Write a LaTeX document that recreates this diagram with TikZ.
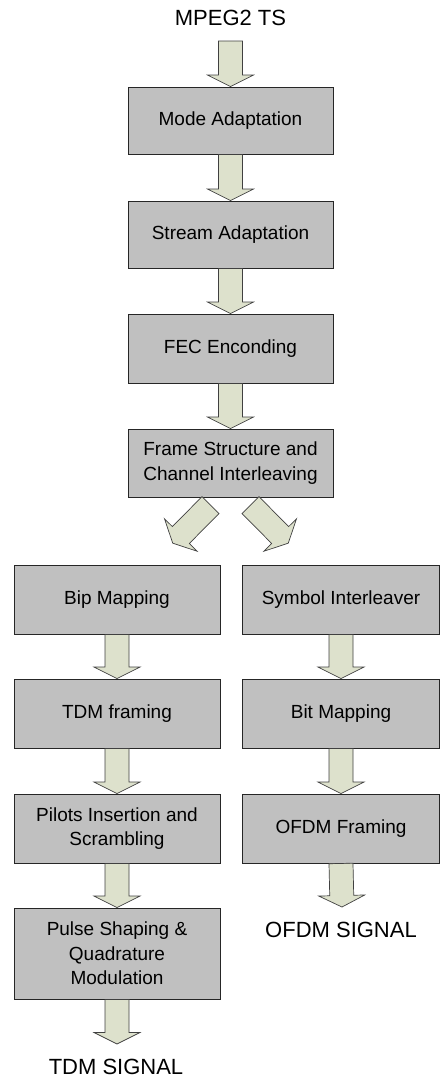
\documentclass[tikz,border=0pt]{standalone}
\usepackage{fontspec}
\setmainfont{Liberation Sans}
\usetikzlibrary{calc}
\definecolor{boxgray}{RGB}{192,192,192}
\definecolor{arrowfill}{RGB}{221,225,204}
\tikzset{
  stage/.style={draw=black!85, line width=0.9pt, fill=boxgray, inner sep=0pt,
    align=center, font=\fontsize{19}{24.5}\selectfont},
  midstage/.style={stage, minimum width=205pt, minimum height=68pt},
  leftstage/.style={stage, minimum width=206pt, minimum height=69pt},
  rightstage/.style={stage, minimum width=197pt, minimum height=69pt},
  signal/.style={font=\fontsize{22}{26}\selectfont, inner sep=0pt},
  fatarrow/.style={draw=black!75, line width=0.7pt, fill=arrowfill, line join=miter},
}
% block arrow from #1 (tail centre) to #2 (tip)
\newcommand\flowarrow[2]{%
  \coordinate (fa-h) at ($(#2)!11.5pt!(#1)$);
  \draw[fatarrow] ($(#1)!12pt!90:(#2)$) -- ($(fa-h)!12pt!90:(#2)$)
    -- ($(fa-h)!23pt!90:(#2)$) -- (#2) -- ($(fa-h)!23pt!-90:(#2)$)
    -- ($(fa-h)!12pt!-90:(#2)$) -- ($(#1)!12pt!-90:(#2)$) -- cycle;
}
\begin{document}
\begin{tikzpicture}[x=1pt, y=1pt]
\useasboundingbox (0,0) rectangle (440,-1080);

% main chain
\node[signal] (ts) at (230.5,-18) {MPEG2 TS};
\coordinate (tsout) at (230.5,-41);
\node[midstage, minimum height=67pt] (mode) at (230.5,-120.5) {Mode Adaptation};
\node[midstage, minimum height=67pt] (stream) at (230.5,-234.5) {Stream Adaptation};
\node[midstage, minimum height=69pt] (fec) at (230.5,-348.5) {FEC Enconding};
\node[midstage] (frame) at (230.5,-463) {Frame Structure and\\Channel Interleaving};

% TDM branch
\node[leftstage] (bip) at (117,-599.5) {Bip Mapping};
\node[leftstage] (tdm) at (117,-713.5) {TDM framing};
\node[leftstage] (pilots) at (117,-828.5) {Pilots Insertion and\\Scrambling};
\node[leftstage, minimum height=91pt] (pulse) at (117,-953.5) {Pulse Shaping \&\\Quadrature\\Modulation};
\coordinate (tdmend) at (117,-1044);
\node[signal] (tdmsig) at (116,-1067) {TDM SIGNAL};

% OFDM branch
\node[rightstage] (sym) at (341,-599.5) {Symbol Interleaver};
\node[rightstage] (bit) at (341,-713.5) {Bit Mapping};
\node[rightstage] (ofdm) at (341,-828.5) {OFDM Framing};
\coordinate (ofdmend) at (342,-907);
\node[signal] (ofdmsig) at (341,-930) {OFDM SIGNAL};

% split arrows below the frame stage
\coordinate (splitL) at ($(frame.south)+(-20,-7.7)$);
\coordinate (splitLtip) at ($(frame.south)+(-57.8,-45.7)$);
\coordinate (splitR) at ($(frame.south)+(20,-7.7)$);
\coordinate (splitRtip) at ($(frame.south)+(57.8,-45.7)$);

% arrows
\flowarrow{tsout}{mode.north}
\flowarrow{mode.south}{stream.north}
\flowarrow{stream.south}{fec.north}
\flowarrow{fec.south}{frame.north}
\flowarrow{splitL}{splitLtip}
\flowarrow{splitR}{splitRtip}
\flowarrow{bip.south}{tdm.north}
\flowarrow{tdm.south}{pilots.north}
\flowarrow{pilots.south}{pulse.north}
\flowarrow{pulse.south}{tdmend}
\flowarrow{sym.south}{bit.north}
\flowarrow{bit.south}{ofdm.north}
\flowarrow{ofdm.south}{ofdmend}
\end{tikzpicture}
\end{document}
